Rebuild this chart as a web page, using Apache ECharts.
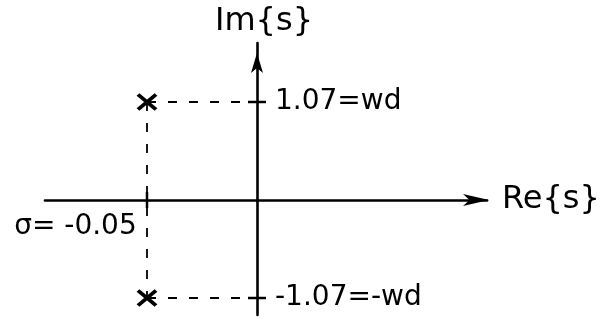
<!DOCTYPE html>
<html>
<head>
<meta charset="utf-8">
<script src="https://cdn.jsdelivr.net/npm/echarts@6/dist/echarts.min.js"></script>
<style>
  html, body { margin: 0; background: #fff; }
  #chart { width: 603px; height: 320px; }
</style>
</head>
<body>
<div id="chart"></div>
<script>
// s-plane sketch: complex pole pair at sigma = -0.05, +/- wd = +/- 1.07
const poleRe = [-0.05, -0.05];
const poleIm = [1.07, -1.07];
const imTicks = [1.07, -1.07];
const imTickLabels = ['1.07=wd', '-1.07=-wd'];
const reTicks = [-0.05];
const reTickLabels = ['σ= -0.05'];
const reName = 'Re{s}';
const imName = 'Im{s}';

// the sketch is not to scale, so pin origin and units to pixels
const W = 603, H = 320;
const origin = [257, 200];
const pxPerRe = 2200;
const pxPerIm = 91.6;
const box = { left: 45, right: 116, top: 43, bottom: 5 };

const xMin = -(origin[0] - box.left) / pxPerRe;
const xMax = (W - box.right - origin[0]) / pxPerRe;
const yMax = (origin[1] - box.top) / pxPerIm;
const yMin = -(H - box.bottom - origin[1]) / pxPerIm;

const font = 'DejaVu Sans';
const ink = '#000';

const labelFor = (vals, labels) => (v) => {
  const i = vals.findIndex((t) => Math.abs(t - v) < 1e-9);
  return i < 0 ? '' : labels[i];
};

// dashed guides from each pole to the imaginary axis, and between poles
const guides = [
  [[poleRe[0], poleIm[0]], [0, poleIm[0]]],
  [[poleRe[1], poleIm[1]], [0, poleIm[1]]],
  [[poleRe[0], poleIm[0]], [poleRe[1], poleIm[1]]],
];

let element = document.getElementById('chart');
let myChart = echarts.init(element, null, { renderer: 'canvas' });

const option = {
  animation: false,
  backgroundColor: '#fff',
  grid: {
    left: box.left, right: box.right, top: box.top, bottom: box.bottom,
    containLabel: false,
    outerBoundsMode: 'none',
  },
  xAxis: {
    type: 'value',
    min: xMin,
    max: xMax,
    name: reName,
    nameLocation: 'end',
    nameGap: 15,
    nameTextStyle: { fontFamily: font, fontSize: 32, color: ink, verticalAlign: 'middle' },
    axisLine: {
      onZero: true,
      symbol: ['none', 'arrow'],
      symbolSize: [9, 26],
      symbolOffset: [0, 2],
      lineStyle: { color: ink, width: 2.6 },
    },
    axisTick: { show: false },
    axisLabel: { show: false },
    splitLine: { show: false },
  },
  yAxis: {
    type: 'value',
    min: yMin,
    max: yMax,
    name: imName,
    nameLocation: 'end',
    nameGap: 5,
    nameTextStyle: { fontFamily: font, fontSize: 32, color: ink, align: 'center', padding: [0, 0, 0, 14] },
    axisLine: {
      onZero: true,
      symbol: ['none', 'arrow'],
      symbolSize: [9, 20],
      symbolOffset: [0, -10],
      lineStyle: { color: ink, width: 2.6 },
    },
    axisTick: { show: false },
    axisLabel: { show: false },
    splitLine: { show: false },
  },
  series: [
    ...guides.map((seg) => ({
      type: 'line',
      data: seg,
      symbol: 'none',
      silent: true,
      lineStyle: { color: ink, width: 1.8, type: [9, 12] },
      z: 1,
    })),
    {
      // tick crosses on the imaginary axis, labelled to the right
      type: 'scatter',
      data: imTicks.map((v) => [0, v]),
      symbol: 'rect',
      symbolSize: [18, 2.5],
      itemStyle: { color: ink, opacity: 1 },
      label: {
        show: true,
        position: 'right',
        distance: 9,
        formatter: (p) => labelFor(imTicks, imTickLabels)(p.value[1]),
        fontFamily: font,
        fontSize: 28,
        color: ink,
      },
      z: 3,
    },
    {
      // tick cross on the real axis, label below-left
      type: 'scatter',
      data: reTicks.map((v) => [v, 0]),
      symbol: 'rect',
      symbolSize: [2.5, 16],
      itemStyle: { color: ink, opacity: 1 },
      label: {
        show: true,
        position: [-9, 21],
        align: 'right',
        verticalAlign: 'top',
        formatter: (p) => labelFor(reTicks, reTickLabels)(p.value[0]),
        fontFamily: font,
        fontSize: 28,
        color: ink,
      },
      z: 3,
    },
    {
      name: 'poles',
      type: 'scatter',
      data: poleRe.map((re, i) => [re, poleIm[i]]),
      symbol: 'path://M0,0L16,14M16,0L0,14',
      symbolSize: [18, 15],
      itemStyle: { color: 'none', borderColor: ink, borderWidth: 3.6, opacity: 1 },
      z: 4,
    },
  ],
};

myChart.setOption(option);
window.addEventListener('resize', myChart.resize);
</script>
</body>
</html>
